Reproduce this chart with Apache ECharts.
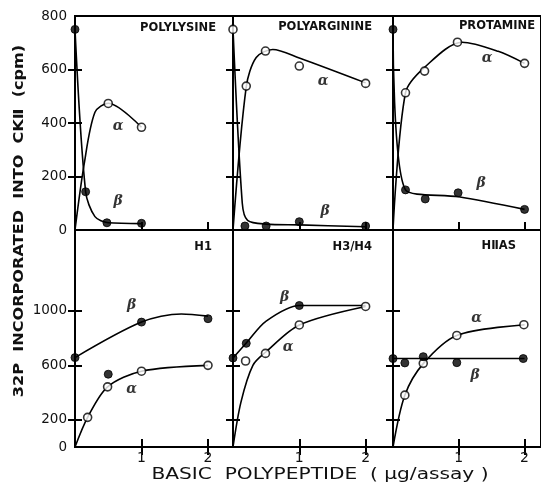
<!DOCTYPE html>
<html><head><meta charset="utf-8">
<script src="https://cdn.jsdelivr.net/npm/echarts@6/dist/echarts.min.js"></script>
<style>html,body{margin:0;padding:0;background:#fff}#c{width:541px;height:484px}</style>
</head><body><div id="c"></div>
<script>
// ---------- data ----------
const panelNames = ['POLYLYSINE', 'POLYARGININE', 'PROTAMINE', 'H1', 'H3/H4', 'HⅡAS'];
const xTickValues = [1, 2];
const topYLabels = [0, 200, 400, 600, 800];
const topYTicks = [200, 400, 600];
const bottomYLabels = [0, 200, 600, 1000];
const bottomYTicks = [200, 600, 1000];

// POLYLYSINE
const lysAlphaCurve = [[0,0],[0.14,250],[0.3,440],[0.5,474],[1.0,384]];
const lysBetaCurve  = [[0,750],[0.16,143],[0.3,50],[0.5,27],[1.0,24]];
const lysAlphaPts   = [[0.5,473],[1.0,384]];
const lysBetaPts    = [[0,750],[0.16,143],[0.48,27],[1.0,25]];
const lysLabels     = [[0.65,386,'α'],[0.65,106,'β']];
// POLYARGININE
const argAlphaCurve = [[0,0],[0.2,536],[0.35,645],[0.6,675],[1.0,643],[2.0,550]];
const argBetaCurve  = [[0,750],[0.14,100],[0.22,36],[0.5,22],[1.0,19],[2.0,12]];
const argAlphaPts   = [[0,750],[0.2,538],[0.49,669],[1.0,613],[2.0,548]];
const argBetaPts    = [[0.18,15],[0.5,15],[1.0,31],[2.0,15]];
const argLabels     = [[1.36,554,'α'],[1.39,71,'β']];
// PROTAMINE
const proAlphaCurve = [[0,0],[0.19,513],[0.48,608],[1.05,702],[1.6,668],[2.0,623]];
const proBetaCurve  = [[0,750],[0.19,150],[1.0,124],[2.0,77]];
const proAlphaPts   = [[0.19,513],[0.48,594],[0.98,702],[2.0,623]];
const proBetaPts    = [[0,750],[0.19,150],[0.49,116],[0.99,139],[2.0,77]];
const proLabels     = [[1.43,642,'α'],[1.34,175,'β']];
// H1
const h1AlphaCurve = [[0,0],[0.19,218],[0.49,442],[1.0,557],[2.0,600]];
const h1BetaCurve  = [[0,657],[1.0,918],[1.6,978],[2.0,962]];
const h1AlphaPts   = [[0.19,218],[0.49,442],[1.0,557],[2.0,600]];
const h1BetaPts    = [[0,657],[0.5,535],[1.0,918],[2.0,943]];
const h1Labels     = [[0.85,1040,'β'],[0.85,423,'α']];
// H3/H4
const h34AlphaCurve = [[0,0],[0.12,330],[0.3,600],[0.5,700],[1.0,897],[2.0,1033]];
const h34BetaCurve  = [[0,654],[0.2,764],[0.5,925],[1.0,1040],[2.0,1040]];
const h34AlphaPts   = [[0.19,632],[0.49,688],[1.0,897],[2.0,1033]];
const h34BetaPts    = [[0,654],[0.2,762],[1.0,1040]];
const h34Labels     = [[0.78,1100,'β'],[0.83,735,'α']];
// HIIAS
const hasAlphaCurve = [[0,0],[0.18,381],[0.46,613],[0.97,820],[2.0,899]];
const hasBetaCurve  = [[0,650],[2.0,650]];
const hasAlphaPts   = [[0.18,381],[0.46,615],[0.97,820],[1.99,899]];
const hasBetaPts    = [[0,650],[0.18,618],[0.46,664],[0.97,620],[1.98,650]];
const hasLabels     = [[1.27,947,'α'],[1.25,527,'β']];

const panelData = [
  [lysAlphaCurve, lysBetaCurve, lysAlphaPts, lysBetaPts, lysLabels],
  [argAlphaCurve, argBetaCurve, argAlphaPts, argBetaPts, argLabels],
  [proAlphaCurve, proBetaCurve, proAlphaPts, proBetaPts, proLabels],
  [h1AlphaCurve, h1BetaCurve, h1AlphaPts, h1BetaPts, h1Labels],
  [h34AlphaCurve, h34BetaCurve, h34AlphaPts, h34BetaPts, h34Labels],
  [hasAlphaCurve, hasBetaCurve, hasAlphaPts, hasBetaPts, hasLabels]
];

// ---------- layout ----------
const cols = [{left:75,width:158,xmax:2.376},{left:233,width:160,xmax:2.413},{left:393,width:148,xmax:2.25}];
const rows = [{top:16,height:214,ymax:800},{top:230,height:217,ymax:1595}];
const titlePos = [[216,28],[372,27],[535,26],[212,247],[372,247],[516,246]];

const grids=[], xAxes=[], yAxes=[], series=[], graphics=[];
const tickStyle = {color:'#000', width:2};
const fmt = v => String(v);

panelData.forEach((pd, i) => {
  const r = Math.floor(i/3), c = i%3;
  grids.push({left:cols[c].left, top:rows[r].top, width:cols[c].width, height:rows[r].height,
    show:true, borderColor:'#000', borderWidth:2, backgroundColor:'transparent'});
  const xi = xAxes.length;
  xAxes.push({gridIndex:i, type:'value', min:0, max:cols[c].xmax, position:'bottom',
    axisLine:{show:true, lineStyle:{color:'#000', width:2}}, splitLine:{show:false},
    axisTick:{show:true, inside:true, length:8, customValues:xTickValues, lineStyle:tickStyle},
    axisLabel:{show:r===1, customValues:xTickValues, margin:4, fontSize:14, color:'#111',
      fontFamily:'DejaVu Sans', formatter:fmt}});
  if (r===1) {
    xAxes.push({gridIndex:i, type:'value', min:0, max:cols[c].xmax, position:'top',
      axisLine:{show:true, lineStyle:{color:'#000', width:2}}, splitLine:{show:false},
      axisTick:{show:true, inside:true, length:8, customValues:xTickValues, lineStyle:tickStyle},
      axisLabel:{show:false}});
  }
  const yi = yAxes.length;
  const lab = r===0 ? topYLabels : bottomYLabels;
  const tk = r===0 ? topYTicks : bottomYTicks;
  yAxes.push({gridIndex:i, type:'value', min:0, max:rows[r].ymax, position:'left',
    axisLine:{show:true, lineStyle:{color:'#000', width:2}}, splitLine:{show:false},
    axisTick:{show:true, inside:false, length:7, customValues:tk, lineStyle:tickStyle},
    axisLabel:{show:c===0, customValues:lab, margin:8, color:'#111', fontFamily:'DejaVu Sans',
      fontSize:13.5, formatter:fmt}});
  yAxes.push({gridIndex:i, type:'value', min:0, max:rows[r].ymax, position:'left', offset:0,
    axisLine:{show:false}, splitLine:{show:false},
    axisTick:{show:true, inside:true, length:7, customValues:tk, lineStyle:tickStyle},
    axisLabel:{show:false}});

  const [aC, bC, aP, bP, lbl] = pd;
  [aC, bC].forEach(curve => series.push({type:'line', xAxisIndex:xi, yAxisIndex:yi, data:curve,
    smooth:0.3, symbol:'none', silent:true,
    lineStyle:{color:'#000', width:1.6}, z:2}));
  series.push({type:'scatter', xAxisIndex:xi, yAxisIndex:yi, data:aP, symbol:'circle', symbolSize:8,
    itemStyle:{color:'#fff', borderColor:'#000', borderWidth:1.6}, z:3});
  series.push({type:'scatter', xAxisIndex:xi, yAxisIndex:yi, data:bP, symbol:'circle', symbolSize:8,
    itemStyle:{color:'#000', borderColor:'#000', borderWidth:1}, z:4});
  series.push({type:'scatter', xAxisIndex:xi, yAxisIndex:yi, data:lbl, symbolSize:0, z:5,
    label:{show:true, position:'inside', formatter:p=>p.data[2], color:'#000',
      fontFamily:'DejaVu Serif', fontStyle:'italic', fontWeight:'bold', fontSize:14}});

  graphics.push({type:'text', x:titlePos[i][0], y:titlePos[i][1],
    style:{text:panelNames[i], textAlign:'right', textVerticalAlign:'middle', fill:'#111',
      font:'bold 11.5px "DejaVu Sans"'}});
});

graphics.push({type:'text', x:320, y:475, scaleX:1.26,
  style:{text:'BASIC  POLYPEPTIDE  ( μg/assay )', textAlign:'center', textVerticalAlign:'middle',
    fill:'#111', font:'16px "DejaVu Sans"'}});
graphics.push({type:'text', x:19, y:221, rotation:Math.PI/2, scaleX:1.15,
  style:{text:'32P  INCORPORATED  INTO  CKⅡ  (cpm)', textAlign:'center', textVerticalAlign:'middle',
    fill:'#111', font:'bold 14px "DejaVu Sans"'}});

const chart = echarts.init(document.getElementById('c'), null, {renderer:'canvas'});
chart.setOption({animation:false, backgroundColor:'#fff', grid:grids, xAxis:xAxes, yAxis:yAxes,
  series:series, graphic:graphics});
</script></body></html>
